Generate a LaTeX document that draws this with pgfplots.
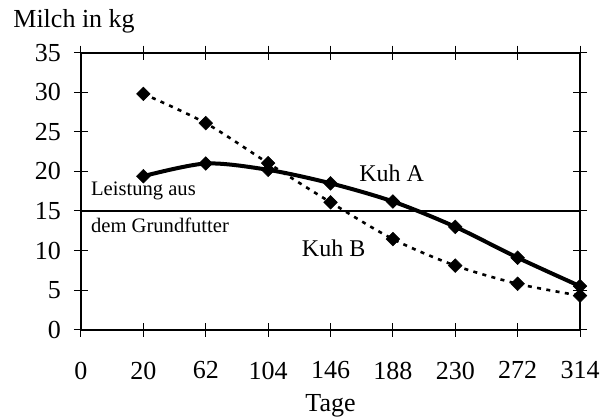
\documentclass[border=0pt]{standalone}
\usepackage{pgfplots}
\pgfplotsset{compat=1.18}
\usepackage{fontspec}
\setmainfont{Liberation Serif}
\begin{document}
\begin{tikzpicture}
\begin{axis}[
  scale only axis,
  width=249.5pt, height=138.5pt,
  xmin=0, xmax=8, ymin=0, ymax=35,
  xtick={0,1,2,3,4,5,6,7,8},
  xticklabels={0,20,62,104,146,188,230,272,314},
  ytick={0,5,10,15,20,25,30,35},
  tick align=center,
  major tick length=7pt,
  tick style={line width=0.5pt, black},
  axis line style={line width=1pt},
  /pgf/number format/assume math mode=true,
  tick label style={font=\fontsize{13}{15}\selectfont},
  xticklabel style={yshift=-9pt},
  yticklabel style={xshift=-3pt},
  clip=false,
]
\addplot[black, line width=0.9pt, forget plot] coordinates {(0,15) (8,15)};
\addplot[black, line width=2pt, smooth, tension=0.5, mark=square*, mark size=2.4pt, mark options={rotate=45, solid, line width=0.3pt}]
 coordinates {(1,19.4) (2,21.0) (3,20.2) (4,18.5) (5,16.2) (6,13.0) (7,9.1) (8,5.5)};
\addplot[black, line width=1.3pt, smooth, tension=0.5, dash pattern=on 2pt off 2.7pt, mark=square*, mark size=2.4pt, mark options={rotate=45, solid, line width=0.3pt}]
 coordinates {(1,29.8) (2,26.1) (3,21.05) (4,16.1) (5,11.45) (6,8.1) (7,5.8) (8,4.3)};
\node[anchor=base west, font=\fontsize{10.3}{12}\selectfont, inner sep=0pt] at (axis cs:0.155,16.96) {Leistung aus};
\node[anchor=base west, font=\fontsize{10.3}{12}\selectfont, inner sep=0pt] at (axis cs:0.155,12.25) {dem Grundfutter};
\node[anchor=base, font=\fontsize{12}{14}\selectfont, inner sep=0pt] at (axis cs:4.98,18.7) {Kuh A};
\node[anchor=base, font=\fontsize{12}{14}\selectfont, inner sep=0pt] at (axis cs:4.05,9.25) {Kuh B};
\node[anchor=base west, font=\fontsize{13}{15}\selectfont, inner sep=0pt, xshift=-34pt, yshift=12.85pt] at (rel axis cs:0,1) {Milch in kg};
\node[anchor=base, font=\fontsize{13}{15}\selectfont, inner sep=0pt, yshift=-41pt] at (rel axis cs:0.5,0) {Tage};
\path ([xshift=-40.5pt, yshift=-44.5pt]rel axis cs:0,0) rectangle ([xshift=16.5pt, yshift=26.35pt]rel axis cs:1,1);
\end{axis}
\end{tikzpicture}
\end{document}
